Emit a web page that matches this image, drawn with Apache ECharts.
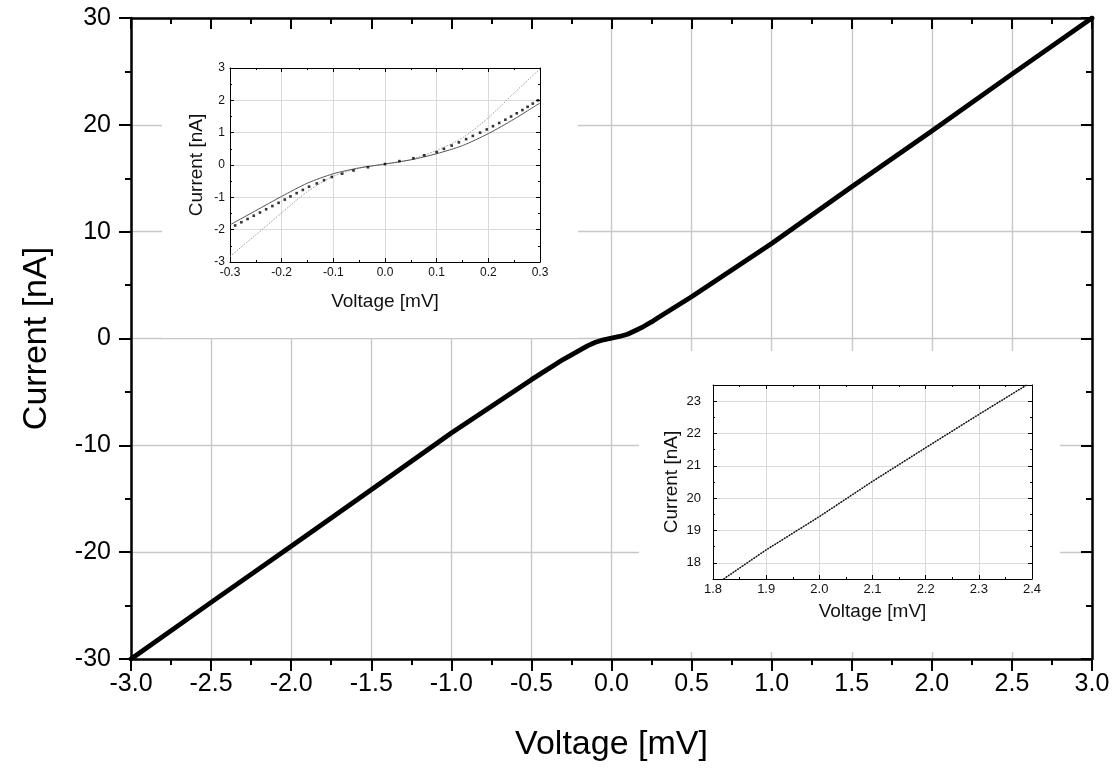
<!DOCTYPE html>
<html>
<head>
<meta charset="utf-8">
<script src="https://cdn.jsdelivr.net/npm/echarts@6/dist/echarts.min.js"></script>
<style>
html,body{margin:0;padding:0;background:#fff;}
#chart{width:1113px;height:770px;}
</style>
</head>
<body>
<div id="chart"></div>
<script>
// ---- Main I-V curve (Voltage in mV, Current in nA) ----
const mainV = [-3.0, -2.5, -2.0, -1.5, -1.0, -0.5, -0.3, -0.25, -0.2, -0.15, -0.1, -0.05, 0.0, 0.05, 0.1, 0.15, 0.2, 0.25, 0.3, 0.5, 1.0, 1.5, 2.0, 2.5, 3.0];
const mainI = [-30.0, -24.7, -19.45, -14.15, -8.85, -3.85, -1.95, -1.54, -1.12, -0.69, -0.35, -0.12, 0.03, 0.19, 0.40, 0.75, 1.12, 1.55, 2.04, 3.9, 8.9, 14.2, 19.43, 24.75, 30.0];

// ---- Inset 1 (-0.3 .. 0.3 mV) ----
const fitV = [-0.3, -0.25, -0.2, -0.15, -0.1, -0.05, 0.0, 0.05, 0.1, 0.15, 0.2, 0.25, 0.3];
const fitSolidI = [-1.85, -1.41, -0.97, -0.56, -0.27, -0.09, 0.03, 0.16, 0.35, 0.60, 0.97, 1.42, 1.92];
const fitDottedI = [-2.83, -2.16, -1.48, -0.82, -0.35, -0.10, 0.03, 0.17, 0.45, 0.84, 1.46, 2.23, 2.97];
const dotV = [-0.302, -0.290, -0.278, -0.266, -0.254, -0.242, -0.230, -0.218, -0.206, -0.194, -0.183, -0.171, -0.159, -0.147, -0.132, -0.118, -0.103, -0.083, -0.061, -0.033,
              0.000, 0.028, 0.055, 0.076, 0.100, 0.114, 0.129, 0.143, 0.157, 0.170, 0.184, 0.197, 0.209, 0.221, 0.233, 0.244, 0.255, 0.266, 0.276, 0.286, 0.296];
const dotI = [-1.97, -1.87, -1.77, -1.67, -1.57, -1.47, -1.37, -1.27, -1.17, -1.07, -0.97, -0.87, -0.77, -0.67, -0.57, -0.47, -0.37, -0.27, -0.17, -0.07,
              0.03, 0.12, 0.21, 0.30, 0.40, 0.50, 0.60, 0.70, 0.80, 0.90, 1.00, 1.10, 1.20, 1.30, 1.40, 1.50, 1.60, 1.70, 1.80, 1.90, 2.00];

// ---- Inset 2 (1.8 .. 2.4 mV) ----
const zoomV = [1.82, 1.9, 2.0, 2.1, 2.2, 2.3, 2.39];
const zoomI = [17.5, 18.4, 19.43, 20.52, 21.56, 22.59, 23.5];

// ---- Axis ranges / labels ----
const mainXRange = [-3, 3, 0.5];
const mainYRange = [-30, 30, 10];
const in1XRange = [-0.3, 0.3, 0.1];
const in1YRange = [-3, 3, 1];
const in2XRange = [1.8, 2.4, 0.1];
const in2YRange = [17.5, 23.5];
const xName = 'Voltage [mV]';
const yName = 'Current [nA]';

const FONT = '"Liberation Sans", Arial, Helvetica, sans-serif';
const zip = (a, b) => a.map((v, i) => [v, b[i]]);

const chart = echarts.init(document.getElementById('chart'), null, {renderer: 'canvas'});

function frameAxis(base, opts) {
  return Object.assign({
    type: 'value',
    axisLine: {show: true, onZero: false, lineStyle: {color: '#000', width: 1}},
    splitLine: {show: false},
    axisLabel: {show: false},
    axisTick: {show: true, inside: true, length: 4, lineStyle: {color: '#000', width: 1}},
    minorTick: {show: true, splitNumber: 2, length: 2, lineStyle: {color: '#000', width: 1}}
  }, base, opts);
}

const option = {
  animation: false,
  backgroundColor: '#fff',
  textStyle: {fontFamily: FONT},
  grid: [
    {left: 131, top: 18, width: 961, height: 641},
    {left: 131, top: 18, width: 961, height: 641},
    {left: 230, top: 68, width: 310, height: 194},
    {left: 713, top: 385, width: 319, height: 194}
  ],
  graphic: [
    {type: 'rect', silent: true, z: 1, shape: {x: 162, y: 18, width: 416, height: 320}, style: {fill: '#fff'}},
    {type: 'rect', silent: true, z: 1, shape: {x: 639, y: 351, width: 421, height: 301}, style: {fill: '#fff'}}
  ],
  xAxis: [
    {type: 'value', gridIndex: 0, z: 0, min: mainXRange[0], max: mainXRange[1], interval: mainXRange[2],
     axisLine: {show: false}, axisTick: {show: false}, axisLabel: {show: false},
     splitLine: {show: true, lineStyle: {color: '#c8c8c8', width: 1.4}}},
    {type: 'value', gridIndex: 1, z: 2, position: 'bottom', min: mainXRange[0], max: mainXRange[1], interval: mainXRange[2],
     axisLine: {show: true, onZero: false, lineStyle: {color: '#000', width: 2.5}},
     axisTick: {show: true, inside: false, length: 12, lineStyle: {color: '#000', width: 2}},
     minorTick: {show: true, splitNumber: 2, length: 6, lineStyle: {color: '#000', width: 2}},
     splitLine: {show: false},
     axisLabel: {show: true, margin: 13, fontSize: 25, color: '#000', fontFamily: FONT, formatter: v => v.toFixed(1)},
     name: xName, nameLocation: 'middle', nameGap: 69,
     nameTextStyle: {fontSize: 34, color: '#000', fontFamily: FONT}},
    {type: 'value', gridIndex: 1, z: 2, position: 'top', min: mainXRange[0], max: mainXRange[1], interval: mainXRange[2],
     axisLine: {show: true, onZero: false, lineStyle: {color: '#000', width: 2.5}},
     axisTick: {show: true, inside: true, length: 11, lineStyle: {color: '#000', width: 2}},
     minorTick: {show: true, splitNumber: 2, length: 6, lineStyle: {color: '#000', width: 2}},
     splitLine: {show: false}, axisLabel: {show: false}},
    frameAxis({gridIndex: 2, z: 4, position: 'bottom', min: in1XRange[0], max: in1XRange[1], interval: in1XRange[2]},
      {splitLine: {show: true, lineStyle: {color: '#dadada', width: 1}},
       axisLabel: {show: true, margin: 5, fontSize: 12, color: '#111', fontFamily: FONT, formatter: v => v.toFixed(1)},
       name: xName, nameLocation: 'middle', nameGap: 30, nameTextStyle: {fontSize: 19, color: '#111', fontFamily: FONT}}),
    frameAxis({gridIndex: 2, z: 4, position: 'top', min: in1XRange[0], max: in1XRange[1], interval: in1XRange[2]}, {}),
    frameAxis({gridIndex: 3, z: 4, position: 'bottom', min: in2XRange[0], max: in2XRange[1], interval: in2XRange[2]},
      {splitLine: {show: true, lineStyle: {color: '#dadada', width: 1}},
       axisLabel: {show: true, margin: 4, fontSize: 13, color: '#111', fontFamily: FONT, formatter: v => v.toFixed(1)},
       name: xName, nameLocation: 'middle', nameGap: 23, nameTextStyle: {fontSize: 19, color: '#111', fontFamily: FONT}}),
    frameAxis({gridIndex: 3, z: 4, position: 'top', min: in2XRange[0], max: in2XRange[1], interval: in2XRange[2]}, {})
  ],
  yAxis: [
    {type: 'value', gridIndex: 0, z: 0, min: mainYRange[0], max: mainYRange[1], interval: mainYRange[2],
     axisLine: {show: false}, axisTick: {show: false}, axisLabel: {show: false},
     splitLine: {show: true, lineStyle: {color: '#c8c8c8', width: 1.4}}},
    {type: 'value', gridIndex: 1, z: 2, position: 'left', min: mainYRange[0], max: mainYRange[1], interval: mainYRange[2],
     axisLine: {show: true, onZero: false, lineStyle: {color: '#000', width: 2.5}},
     axisTick: {show: true, inside: false, length: 12, lineStyle: {color: '#000', width: 2}},
     minorTick: {show: true, splitNumber: 2, length: 6, lineStyle: {color: '#000', width: 2}},
     splitLine: {show: false},
     axisLabel: {show: true, margin: 20, fontSize: 25, color: '#000', fontFamily: FONT},
     name: yName, nameLocation: 'middle', nameGap: 77, nameRotate: 90,
     nameTextStyle: {fontSize: 34, color: '#000', fontFamily: FONT}},
    {type: 'value', gridIndex: 1, z: 2, position: 'right', min: mainYRange[0], max: mainYRange[1], interval: mainYRange[2],
     axisLine: {show: true, onZero: false, lineStyle: {color: '#000', width: 2.5}},
     axisTick: {show: true, inside: true, length: 11, lineStyle: {color: '#000', width: 2}},
     minorTick: {show: true, splitNumber: 2, length: 6, lineStyle: {color: '#000', width: 2}},
     splitLine: {show: false}, axisLabel: {show: false}},
    frameAxis({gridIndex: 2, z: 4, position: 'left', min: in1YRange[0], max: in1YRange[1], interval: in1YRange[2]},
      {splitLine: {show: true, lineStyle: {color: '#dadada', width: 1}},
       axisLabel: {show: true, margin: 5, fontSize: 12, color: '#111', fontFamily: FONT},
       name: yName, nameLocation: 'middle', nameGap: 24, nameRotate: 90, nameTextStyle: {fontSize: 19, color: '#111', fontFamily: FONT}}),
    frameAxis({gridIndex: 2, z: 4, position: 'right', min: in1YRange[0], max: in1YRange[1], interval: in1YRange[2]}, {}),
    frameAxis({gridIndex: 3, z: 4, position: 'left', min: in2YRange[0], max: in2YRange[1], splitNumber: 6},
      {splitLine: {show: true, lineStyle: {color: '#dadada', width: 1}},
       axisLabel: {show: true, margin: 12, fontSize: 13, color: '#111', fontFamily: FONT, showMinLabel: false, showMaxLabel: false},
       name: yName, nameLocation: 'middle', nameGap: 32, nameRotate: 90, nameTextStyle: {fontSize: 19, color: '#111', fontFamily: FONT}}),
    frameAxis({gridIndex: 3, z: 4, position: 'right', min: in2YRange[0], max: in2YRange[1], splitNumber: 6}, {})
  ],
  series: [
    {type: 'line', xAxisIndex: 1, yAxisIndex: 1, z: 3, data: zip(mainV, mainI),
     smooth: false, showSymbol: false, clip: true,
     lineStyle: {color: '#000', width: 4.8, join: 'round', cap: 'round'}},
    {type: 'line', xAxisIndex: 3, yAxisIndex: 3, z: 5, data: zip(fitV, fitDottedI),
     smooth: 0.25, showSymbol: false, clip: true,
     lineStyle: {color: '#9a9a9a', width: 1, type: [1.5, 1.5]}},
    {type: 'line', xAxisIndex: 3, yAxisIndex: 3, z: 5, data: zip(fitV, fitSolidI),
     smooth: 0.25, showSymbol: false, clip: true,
     lineStyle: {color: '#555', width: 1}},
    {type: 'scatter', xAxisIndex: 3, yAxisIndex: 3, z: 6, data: zip(dotV, dotI),
     symbol: 'rect', symbolSize: 2.6, clip: true, itemStyle: {color: '#000'}},
    {type: 'line', xAxisIndex: 5, yAxisIndex: 5, z: 5, data: zip(zoomV, zoomI),
     showSymbol: false, clip: true, lineStyle: {color: '#666', width: 1}},
    {type: 'line', xAxisIndex: 5, yAxisIndex: 5, z: 6, data: zip(zoomV, zoomI),
     showSymbol: false, clip: true, lineStyle: {color: '#000', width: 1.6, type: [1.2, 1.6]}}
  ]
};
chart.setOption(option);
</script>
</body>
</html>
